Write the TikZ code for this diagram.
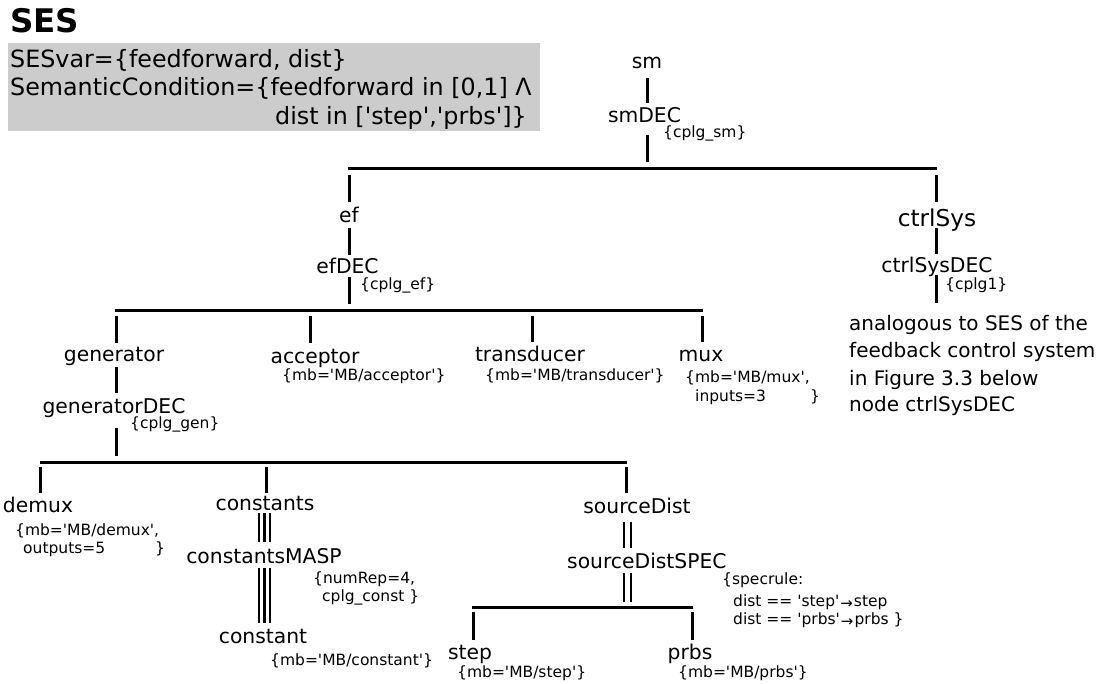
\documentclass[tikz,border=0pt]{standalone}
\usepackage{fontspec}
\setmainfont{DejaVu Sans}[Ligatures=TeXOff]
\definecolor{boxgray}{HTML}{CCCCCC}
\newcommand{\ra}{\hspace{1pt}{\fontsize{15}{15}\selectfont\raisebox{-2.5pt}{→}}\hspace{1pt}}
\tikzset{
  lbl/.style={inner sep=0pt, anchor=base, font=\fontsize{20.3}{24}\selectfont},
  biglbl/.style={inner sep=0pt, anchor=base, font=\fontsize{23.2}{28}\selectfont},
  ann/.style={inner sep=0pt, anchor=base west, font=\fontsize{15.5}{19}\selectfont},
  notetxt/.style={inner sep=0pt, anchor=base west, font=\fontsize{20}{24}\selectfont},
  boxtxt/.style={inner sep=0pt, font=\fontsize{23.8}{28}\selectfont},
  stub/.style={line width=3pt},
  bus/.style={line width=3pt},
}
\begin{document}
\begin{tikzpicture}[x=1pt,y=-1pt]
\useasboundingbox (0,0) rectangle (1100,684);

% heading and variable box
\node[inner sep=0pt, anchor=base west, font=\fontsize{32.5}{38}\selectfont\bfseries] (title) at (10,33) {SES};
\fill[boxgray] (8,43) rectangle (540,131);
\node[boxtxt, anchor=base west] (var1) at (10,68) {SESvar=\{feedforward, dist\}};
\node[boxtxt, anchor=base west] (var2) at (10,96) {SemanticCondition=\{feedforward in [0,1] Λ};
\node[boxtxt, anchor=base east] (var3) at (527,125) {dist in ['step','prbs']\}};

% root
\node[lbl] (sm) at (647,69) {sm};
\node[lbl] (smDEC) at (644.5,123) {smDEC};
\node[ann] (cplgsm) at (663,138) {\{cplg\_sm\}};

% ef branch
\node[lbl] (ef) at (349,223) {ef};
\node[lbl] (efDEC) at (347.5,274) {efDEC};
\node[ann] (cplgef) at (360,290) {\{cplg\_ef\}};

% ctrlSys branch
\node[biglbl] (ctrlSys) at (937,227) {ctrlSys};
\node[lbl] (ctrlSysDEC) at (937,273) {ctrlSysDEC};
\node[ann] (cplgone) at (945,290) {\{cplg1\}};
\node[notetxt] (note1) at (849,331) {analogous to SES of the};
\node[notetxt] (note2) at (849,358) {feedback control system};
\node[notetxt] (note3) at (849,385) {in Figure 3.3 below};
\node[notetxt] (note4) at (849,411) {node ctrlSysDEC};

% children of efDEC
\node[lbl] (generator) at (114,362) {generator};
\node[lbl] (generatorDEC) at (114,413) {generatorDEC};
\node[ann] (cplggen) at (130,428) {\{cplg\_gen\}};
\node[lbl] (acceptor) at (315,363) {acceptor};
\node[ann] (mbacc) at (282,381) {\{mb='MB/acceptor'\}};
\node[lbl] (transducer) at (530,362) {transducer};
\node[ann] (mbtrans) at (485,381) {\{mb='MB/transducer'\}};
\node[lbl] (mux) at (701,362) {mux};
\node[ann] (mbmux) at (685,382) {\{mb='MB/mux',};
\node[ann] (muxin) at (695,401) {inputs=3};
\node[ann] (muxend) at (810,401) {\}};

% children of generatorDEC
\node[lbl] (demux) at (38,512) {demux};
\node[ann] (mbdemux) at (15,535) {\{mb='MB/demux',};
\node[ann] (demuxout) at (23,553) {outputs=5};
\node[ann] (demuxend) at (155,553) {\}};
\node[lbl] (constants) at (265,510) {constants};
\node[lbl] (constantsMASP) at (264,563) {constantsMASP};
\node[ann] (numrep) at (313,583) {\{numRep=4,};
\node[ann] (cplgconst) at (322,601) {cplg\_const \}};
\node[lbl] (constant) at (263,643) {constant};
\node[ann] (mbconst) at (270,665) {\{mb='MB/constant'\}};
\node[lbl] (sourceDist) at (637,513) {sourceDist};
\node[lbl, anchor=base west] (sourceDistSPEC) at (567,568) {sourceDistSPEC};
\node[ann] (spec1) at (722,584) {\{specrule:};
\node[ann] (spec2) at (733,606) {dist == 'step'\ra step};
\node[ann] (spec3) at (733,624) {dist == 'prbs'\ra prbs \}};
\node[lbl] (step) at (470,659) {step};
\node[ann] (mbstep) at (457,677) {\{mb='MB/step'\}};
\node[lbl] (prbs) at (690,659) {prbs};
\node[ann] (mbprbs) at (678,677) {\{mb='MB/prbs'\}};

% bus lines of the decompositions
\coordinate (b1w) at (348,169); \coordinate (b1e) at (937,169);
\coordinate (b2w) at (115,311); \coordinate (b2e) at (703,311);
\coordinate (b3w) at (40,462);  \coordinate (b3e) at (627,462);
\coordinate (b4w) at (472,607); \coordinate (b4e) at (693,607);
\draw[bus] (b1w) -- (b1e);
\draw[bus] (b2w) -- (b2e);
\draw[bus] (b3w) -- (b3e);
\draw[bus] (b4w) -- (b4e);

% single stubs
\foreach \n/\x/\ya/\yb in {
  smA/647/78/103, smB/647/135/162,
  efA/349/175/202, efB/349/228/255, efC/349/277/304,
  csA/936/175/202, csB/936/228/254, csC/936/275/303,
  genA/116/316/343, genB/116/367/393, genC/116/428/456,
  accA/310/316/343, trA/532/316/342, muxA/702/316/342,
  dmA/40/467/493, cnA/266/467/493, sdA/626/467/493,
  stA/473/612/640, prA/692/612/640}
{
  \coordinate (\n-top) at (\x,\ya);
  \coordinate (\n-bot) at (\x,\yb);
  \draw[stub] (\n-top) -- (\n-bot);
}

% multiple-aspect links (triple lines)
\foreach \n/\ya/\yb in {masA/513/542, masB/568/623}
  \foreach \x [count=\i] in {259,264.5,270}
  {
    \coordinate (\n\i-top) at (\x,\ya);
    \coordinate (\n\i-bot) at (\x,\yb);
    \draw[line width=2.6pt] (\n\i-top) -- (\n\i-bot);
  }

% specialization links (double lines)
\foreach \n/\ya/\yb in {spA/522/548, spB/573/602}
  \foreach \x [count=\i] in {624,631}
  {
    \coordinate (\n\i-top) at (\x,\ya);
    \coordinate (\n\i-bot) at (\x,\yb);
    \draw[line width=2.6pt] (\n\i-top) -- (\n\i-bot);
  }
\end{tikzpicture}
\end{document}
